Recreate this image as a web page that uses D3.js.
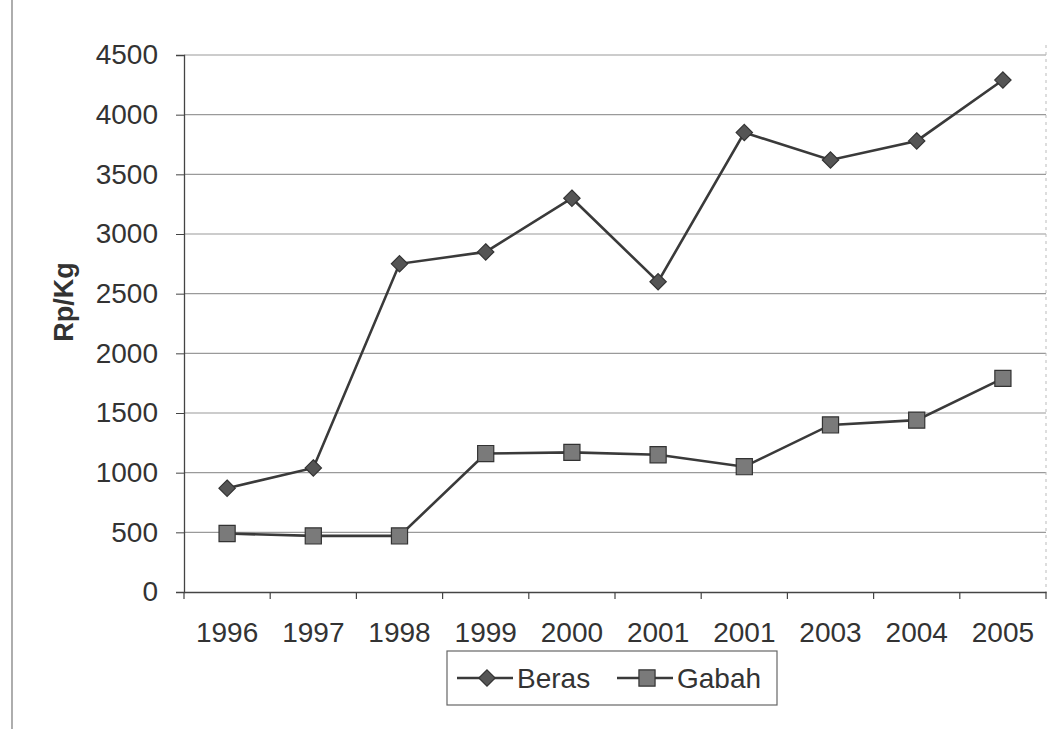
<!DOCTYPE html>
<html><head><meta charset="utf-8">
<script src="https://cdn.jsdelivr.net/npm/d3@7"></script>
<style>body{margin:0;background:#fff}svg{display:block}</style>
</head><body>
<script>
const categories = ["1996","1997","1998","1999","2000","2001","2001","2003","2004","2005"];
const beras = [870, 1040, 2750, 2850, 3300, 2600, 3850, 3620, 3780, 4290];
const gabah = [490, 470, 470, 1160, 1170, 1150, 1050, 1400, 1440, 1790];
const yTicks = [0,500,1000,1500,2000,2500,3000,3500,4000,4500];
const seriesNames = ["Beras","Gabah"];

const W = 1056, H = 729;
const svg = d3.select("body").append("svg").attr("width", W).attr("height", H);
const font = "'Liberation Sans', Arial, sans-serif";

const m = {left:184, right:1046, top:55, bottom:592};
const keys = categories.map((c,i)=>i);
const x = d3.scaleBand().domain(keys).range([m.left, m.right]);
const y = d3.scaleLinear().domain([0,4500]).range([m.bottom, m.top]);

// outer frame left line
svg.append("line").attr("x1",12).attr("x2",12).attr("y1",0).attr("y2",H)
  .attr("stroke","#777").attr("stroke-width",1.2);

// gridlines
svg.append("g").selectAll("line").data(yTicks.filter(d=>d>0)).join("line")
  .attr("x1",m.left).attr("x2",m.right)
  .attr("y1",d=>y(d)).attr("y2",d=>y(d))
  .attr("stroke","#9a9a9a").attr("stroke-width",1.2);

// right plot edge
svg.append("line").attr("x1",m.right).attr("x2",m.right).attr("y1",m.top-10).attr("y2",m.bottom)
  .attr("stroke","#bbb").attr("stroke-width",1).attr("stroke-dasharray","3,4");

// y axis
const yAxis = d3.axisLeft(y).tickValues(yTicks).tickFormat(d3.format("d")).tickSize(8).tickPadding(18);
const gy = svg.append("g").attr("transform",`translate(${m.left},0)`).call(yAxis);
gy.attr("font-size",null).attr("font-family",null);
gy.select(".domain").attr("stroke","#444").attr("stroke-width",1.3);
gy.selectAll(".tick line").attr("stroke","#444");
gy.selectAll("text").style("font-family",font).style("font-size","28px").attr("fill","#333");

// x axis
const xAxis = d3.axisBottom(x).tickFormat(i=>categories[i]).tickSize(0).tickPadding(30);
const gx = svg.append("g").attr("transform",`translate(0,${m.bottom})`).call(xAxis);
gx.attr("font-size",null).attr("font-family",null);
gx.select(".domain").attr("stroke","#444").attr("stroke-width",1.3);
gx.selectAll("text").style("font-family",font).style("font-size","28px").attr("fill","#333");
// x ticks at band boundaries
const bounds = keys.map(k=>x(k)).concat([m.right]);
svg.append("g").selectAll("line").data(bounds).join("line")
  .attr("x1",d=>d).attr("x2",d=>d).attr("y1",m.bottom).attr("y2",m.bottom+7)
  .attr("stroke","#444").attr("stroke-width",1.2);

// y label
svg.append("text").attr("transform","translate(73,302) rotate(-90)")
  .attr("text-anchor","middle").style("font-family",font).style("font-size","27px")
  .attr("font-weight","bold").attr("fill","#333").text("Rp/Kg");

const cx = i => x(i) + x.bandwidth()/2;
const line = d3.line().x((d,i)=>cx(i)).y(d=>y(d));

const diamond = d3.symbol().type(d3.symbolDiamond2 || d3.symbolDiamond).size(170);
const square = d3.symbol().type(d3.symbolSquare).size(260);

function drawSeries(vals, sym, fill){
  svg.append("path").datum(vals).attr("d",line).attr("fill","none")
    .attr("stroke","#3a3a3a").attr("stroke-width",2.6);
  svg.append("g").selectAll("path").data(vals).join("path")
    .attr("d",sym).attr("transform",(d,i)=>`translate(${cx(i)},${y(d)})`)
    .attr("fill",fill).attr("stroke","#333").attr("stroke-width",1.2);
}
drawSeries(gabah, square, "#7a7a7a");
drawSeries(beras, diamond, "#555");

// legend
const lg = svg.append("g");
lg.append("rect").attr("x",447).attr("y",651).attr("width",330).attr("height",54)
  .attr("fill","#fff").attr("stroke","#666").attr("stroke-width",1.2);
const legItems = [
  {name:seriesNames[0], sym:diamond, fill:"#555", x0:457},
  {name:seriesNames[1], sym:square, fill:"#7a7a7a", x0:617}
];
legItems.forEach(it=>{
  lg.append("line").attr("x1",it.x0).attr("x2",it.x0+56).attr("y1",678).attr("y2",678)
    .attr("stroke","#3a3a3a").attr("stroke-width",2.6);
  lg.append("path").attr("d",it.sym).attr("transform",`translate(${it.x0+30},678)`)
    .attr("fill",it.fill).attr("stroke","#333").attr("stroke-width",1.2);
  lg.append("text").attr("x",it.x0+60).attr("y",688).style("font-family",font)
    .style("font-size","28px").attr("fill","#333").text(it.name);
});
</script>
</body></html>
